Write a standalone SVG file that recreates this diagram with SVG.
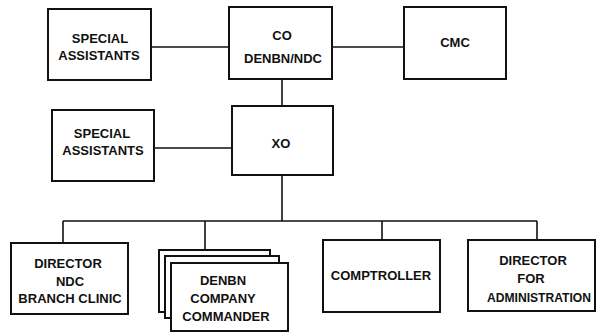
<svg xmlns="http://www.w3.org/2000/svg" width="598" height="333" viewBox="0 0 598 333">
<style>
.box{fill:#fff;stroke:#111;stroke-width:2}
.ln{fill:none;stroke:#111;stroke-width:1.6}
text{font-family:"Liberation Sans",Arial,sans-serif;font-weight:bold;font-size:13px;fill:#111;text-anchor:middle}
</style>
<rect width="598" height="333" fill="#fff"/>
<g id="connectors">
<path class="ln" d="M151 47H229M332 47H404M282 79V106M154 148H232M282 175V221M63 221H537M63 221V243M205 221V250M382 221V240M537 221V240"/>
</g>
<g id="sa1"><rect class="box" x="48" y="9" width="103" height="71"/><text x="100" y="43">SPECIAL</text><text x="99" y="60">ASSISTANTS</text></g>
<g id="co"><rect class="box" x="229" y="7" width="103" height="72"/><text x="282" y="40">CO</text><text x="283" y="63">DENBN/NDC</text></g>
<g id="cmc"><rect class="box" x="404" y="7" width="102" height="72"/><text x="455" y="47">CMC</text></g>
<g id="sa2"><rect class="box" x="52" y="110" width="102" height="71"/><text x="102" y="138">SPECIAL</text><text x="103" y="155">ASSISTANTS</text></g>
<g id="xo"><rect class="box" x="232" y="106" width="101" height="69"/><text x="281" y="148">XO</text></g>
<g id="dir-ndc"><rect class="box" x="11" y="243" width="117" height="71"/><text x="68" y="268">DIRECTOR</text><text x="70" y="286">NDC</text><text x="70" y="303">BRANCH CLINIC</text></g>
<g id="denbn">
<rect class="box" x="159" y="250" width="111" height="62"/>
<rect class="box" x="165" y="256" width="114" height="62"/>
<rect class="box" x="171" y="263" width="117" height="68"/>
<text x="223" y="285">DENBN</text><text x="223" y="303">COMPANY</text><text x="226" y="321">COMMANDER</text>
</g>
<g id="comptroller"><rect class="box" x="323" y="240" width="117" height="72"/><text x="381" y="280">COMPTROLLER</text></g>
<g id="dir-admin"><rect class="box" x="468" y="240" width="127" height="71"/><text x="533" y="265">DIRECTOR</text><text x="531" y="283">FOR</text><text x="539" y="302" textLength="104" lengthAdjust="spacingAndGlyphs">ADMINISTRATION</text></g>
</svg>
